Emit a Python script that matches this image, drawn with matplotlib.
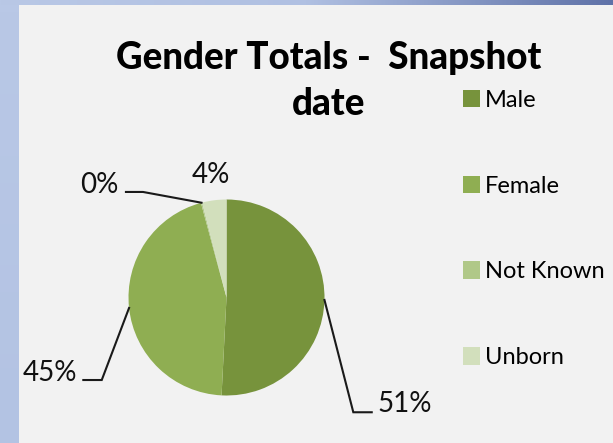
import numpy as np
import matplotlib
matplotlib.use("Agg")
import matplotlib.pyplot as plt
from matplotlib.patches import Patch
from matplotlib.colors import LinearSegmentedColormap

# ---- data ----
categories = ["Male", "Female", "Not Known", "Unborn"]
values = [50.8, 45.0, 0.2, 4.0]
label_texts = ["51%", "45%", "0%", "4%"]
colors = ["#77933c", "#8fae52", "#b0c888", "#d2dfbc"]

W, H = 613, 443
fig = plt.figure(figsize=(W / 100, H / 100), dpi=100, facecolor="#f2f2f2")
plt.rcParams["font.family"] = ["Lato", "DejaVu Sans"]

def px(x, y):
    """pixel (top-left origin) -> figure fraction"""
    return x / W, 1 - y / H

# background decoration: top gradient strip and left strip
cmap = LinearSegmentedColormap.from_list("bar", ["#b9c8e6", "#b0c0e2", "#5f72a8"])
top = fig.add_axes([0, 1 - 5 / H, 1, 5 / H])
top.imshow(np.linspace(0, 1, 256)[None, :], aspect="auto", cmap=cmap)
top.axis("off")
left = fig.add_axes([0, 0, 19 / W, 1 - 5 / H])
left.imshow(np.linspace(0, 1, 64)[:, None], aspect="auto",
            cmap=LinearSegmentedColormap.from_list("l", ["#b9c8e6", "#b3c3e3"]))
left.axis("off")

# pie axes: center (226.5, 297.5) px, radius 98 px
cx, cy, r = 226.5, 297.5, 98
ax = fig.add_axes([(cx - r) / W, (H - cy - r) / H, 2 * r / W, 2 * r / H])
wedges, _ = ax.pie(values, colors=colors, startangle=90, counterclock=False,
                   radius=1, wedgeprops=dict(linewidth=0))
ax.set_xlim(-1, 1)
ax.set_ylim(-1, 1)
ax.set_aspect("equal")
ax.set_clip_on(False)

# label layout (data units relative to pie, radius 1)
# (elbow x, elbow y, end x, text x, text y, ha) ; None -> no leader
layout = {
    "Male":      (1.294, -1.171, 1.482, 1.540, -1.165, "left"),
    "Female":    (-1.273, -0.842, -1.461, -1.520, -0.849, "right"),
    "Not Known": (-0.852, 1.077, -1.026, -1.105, 1.066, "right"),
    "Unborn":    None,
}
for w, cat, txt in zip(wedges, categories, label_texts):
    mid = np.deg2rad((w.theta1 + w.theta2) / 2)
    sx, sy = np.cos(mid), np.sin(mid)
    lay = layout[cat]
    if lay is None:
        ax.text(sx * 1.28, 1.168, txt, ha="center", va="baseline",
                fontsize=20, color="#111111", clip_on=False)
        continue
    ex, ey, endx, tx, ty, ha = lay
    ax.plot([sx, ex, endx], [sy, ey, ey], color="#1a1a1a", lw=1.5,
            clip_on=False, solid_joinstyle="miter")
    ax.text(tx, ty, txt, ha=ha, va="baseline", fontsize=20,
            color="#111111", clip_on=False)

# title
fig.text(*px(328.5, 69), "Gender Totals -  Snapshot", ha="center", va="baseline",
         fontsize=26.5, fontweight="black", color="#000000")
fig.text(*px(328.5, 115), "date", ha="center", va="baseline",
         fontsize=26.5, fontweight="black", color="#000000")

# legend
handles = [Patch(facecolor=c, edgecolor="none") for c in colors]
fig.legend(handles, categories, loc="upper left",
           bbox_to_anchor=px(463, 90), frameon=False, fontsize=17,
           handlelength=0.72, handleheight=0.76, handletextpad=0.2,
           labelspacing=2.74, borderpad=0, borderaxespad=0)

fig.savefig("out.png", dpi=100, facecolor=fig.get_facecolor())
